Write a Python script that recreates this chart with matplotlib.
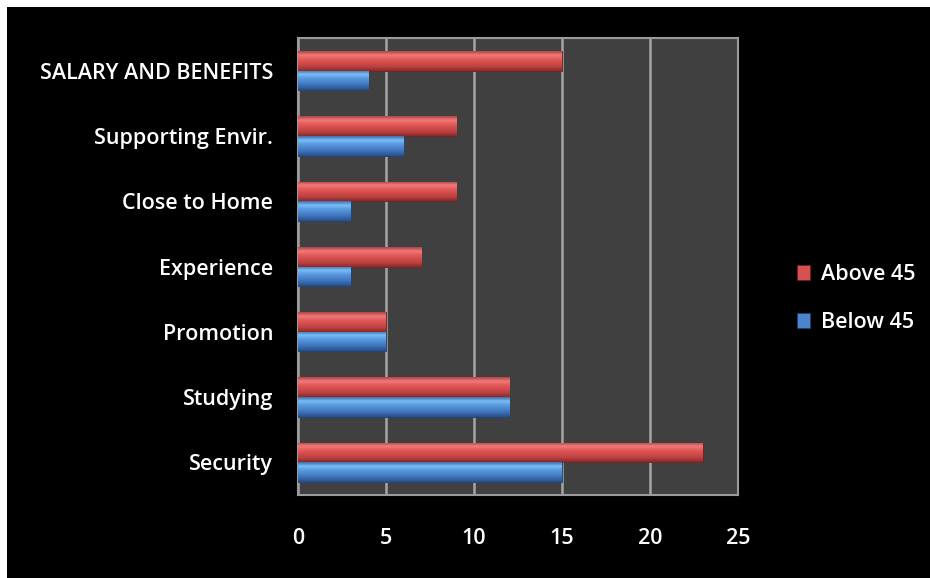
import matplotlib.pyplot as plt
import numpy as np
from matplotlib.colors import LinearSegmentedColormap
from matplotlib.patches import Rectangle

categories = ['Security', 'Studying', 'Promotion', 'Experience',
              'Close to Home', 'Supporting Envir.', 'SALARY AND BENEFITS']
above_45 = [23, 12, 5, 7, 9, 9, 15]
below_45 = [15, 12, 5, 3, 3, 6, 4]

plt.rcParams['font.family'] = ['Open Sans', 'DejaVu Sans']

fig = plt.figure(figsize=(9.3, 5.78), dpi=100, facecolor='black')
# thin white margin at top and left, as in the original screenshot
fig.patches.append(Rectangle((0, 1 - 7 / 578), 1, 7 / 578,
                             transform=fig.transFigure, facecolor='white',
                             edgecolor='none', zorder=-10))
fig.patches.append(Rectangle((0, 0), 7 / 930, 1,
                             transform=fig.transFigure, facecolor='white',
                             edgecolor='none', zorder=-10))

ax = fig.add_axes([298 / 930, 1 - 495 / 578, 440 / 930, 457 / 578])
ax.set_facecolor('#404040')

y = np.arange(len(categories))
h = 0.3

red_grad = LinearSegmentedColormap.from_list(
    'r', ['#8a2a2a', '#b84040', '#d24c4c', '#e25a5a', '#f27a7a', '#b04545'])
blue_grad = LinearSegmentedColormap.from_list(
    'b', ['#28508a', '#3a6cb0', '#4a85cc', '#5a9ae0', '#78bdf5', '#3d6fae'])

bars_a = ax.barh(y + h / 2, above_45, height=h, color='#d84f4f',
                 edgecolor='#6a2020', linewidth=0.6, label='Above 45', zorder=3)
bars_b = ax.barh(y - h / 2, below_45, height=h, color='#4a85cc',
                 edgecolor='#1f3f6e', linewidth=0.6, label='Below 45', zorder=3)

grad = np.linspace(0, 1, 64).reshape(-1, 1)
for bars, cmap in [(bars_a, red_grad), (bars_b, blue_grad)]:
    for b in bars:
        x0, y0 = b.get_x(), b.get_y()
        im = ax.imshow(grad, cmap=cmap, origin='lower', aspect='auto',
                       extent=(x0, x0 + b.get_width(), y0, y0 + b.get_height()),
                       zorder=3.5)
        im.set_clip_path(b)

ax.set_xlim(0, 25)
ax.set_ylim(-0.5, len(categories) - 0.5)
ax.set_xticks([0, 5, 10, 15, 20, 25])
ax.set_yticks(y)
ax.set_yticklabels(categories)
ax.grid(axis='x', color='#a6a6a6', linewidth=1.8, zorder=1)
ax.set_axisbelow(True)
ax.tick_params(axis='both', length=0, colors='white', labelsize=15.5)
ax.tick_params(axis='y', pad=18)
ax.tick_params(axis='x', pad=24)
for lab in ax.get_xticklabels() + ax.get_yticklabels():
    lab.set_fontweight('semibold')
for s in ax.spines.values():
    s.set_color('#9a9a9a')
    s.set_linewidth(1.5)

leg = ax.legend(handles=[bars_a, bars_b], loc='center left',
                bbox_to_anchor=(1.09, 0.43), frameon=False,
                labelcolor='white', handlelength=0.6, handleheight=0.75,
                handletextpad=0.5, labelspacing=1.25,
                prop={'size': 15.5, 'weight': 'semibold'})

fig.savefig('out.png', dpi=100, facecolor=fig.get_facecolor())
